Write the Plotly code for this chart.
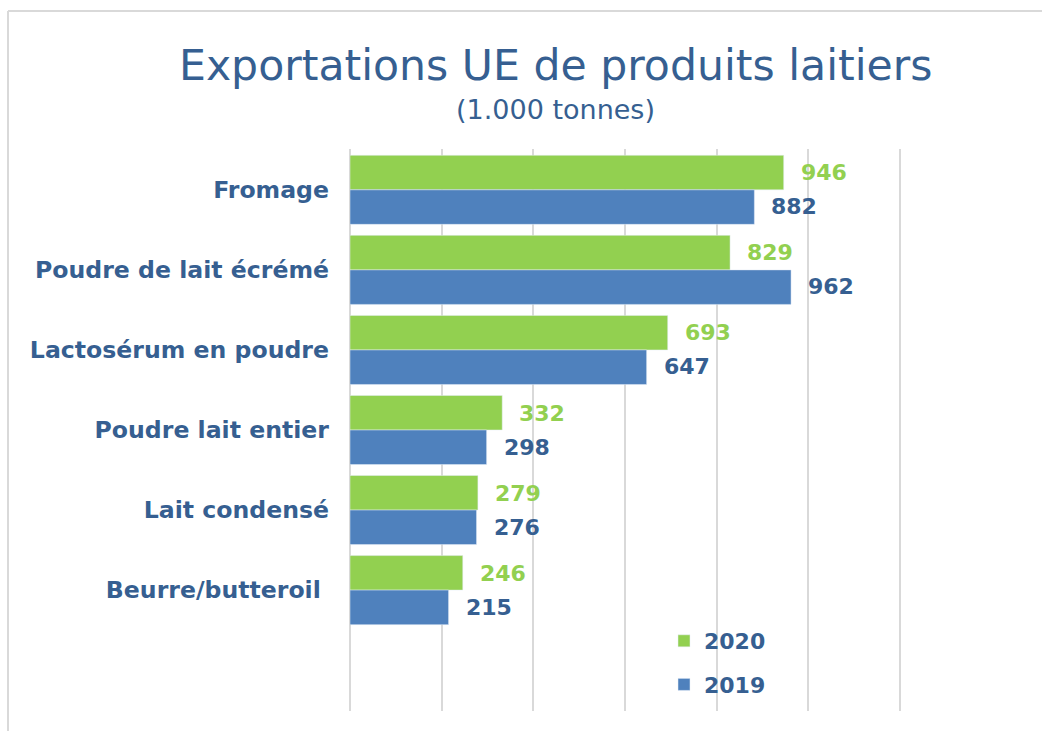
import plotly.graph_objects as go

categories = ["Fromage", "Poudre de lait écrémé", "Lactosérum en poudre",
              "Poudre lait entier", "Lait condensé", "Beurre/butteroil\u00a0"]
values_2020 = [946, 829, 693, 332, 279, 246]
values_2019 = [882, 962, 647, 298, 276, 215]
series_names = ["2020", "2019"]

GREEN = "#92D050"
BLUE = "#4F81BD"
DARK = "#365F91"
GRID = "#D9D9D9"
FONT = "DejaVu Sans"

W, H = 1042, 731
L, R, T, B = 350, 140, 149, 20
pw, ph = W - L - R, H - T - B


def px_x(x):
    return (x - L) / pw


def px_y(y):
    return (H - B - y) / ph


fig = go.Figure()
fig.add_trace(go.Bar(y=categories, x=values_2020, orientation="h", name=series_names[0],
                     marker=dict(color=GREEN), legendgroup="a"))
fig.add_trace(go.Bar(y=categories, x=values_2019, orientation="h", name=series_names[1],
                     marker=dict(color=BLUE), legendgroup="b"))

annotations = []
for cat, v in zip(categories, values_2020):
    annotations.append(dict(x=v, y=cat, xref="x", yref="y", text=str(v), showarrow=False,
                            xanchor="left", yanchor="middle", xshift=15, yshift=17,
                            font=dict(family=FONT, size=22, color=GREEN, weight="bold")))
for cat, v in zip(categories, values_2019):
    annotations.append(dict(x=v, y=cat, xref="x", yref="y", text=str(v), showarrow=False,
                            xanchor="left", yanchor="middle", xshift=15, yshift=-17,
                            font=dict(family=FONT, size=22, color=DARK, weight="bold")))

annotations.append(dict(x=px_x(555), y=px_y(82), xref="paper", yref="paper",
                        text="Exportations UE de produits laitiers", showarrow=False,
                        yanchor="bottom", yshift=-10,
                        font=dict(family=FONT, size=42.6, color=DARK)))
annotations.append(dict(x=px_x(555), y=px_y(117), xref="paper", yref="paper",
                        text="(1.000 tonnes)", showarrow=False,
                        yanchor="bottom", yshift=-10,
                        font=dict(family=FONT, size=27, color=DARK)))

fig.update_layout(
    width=W, height=H,
    margin=dict(l=L, r=R, t=T, b=B, autoexpand=False),
    paper_bgcolor="white", plot_bgcolor="white",
    barmode="group", bargap=0.1375, bargroupgap=0,
    font=dict(family=FONT, color=DARK),
    showlegend=True,
    legend=dict(x=px_x(664), y=px_y(620), xanchor="left", yanchor="top",
                traceorder="grouped", tracegroupgap=12,
                font=dict(family=FONT, size=22, color=DARK, weight="bold"),
                bgcolor="rgba(0,0,0,0)"),
    annotations=annotations,
    xaxis=dict(range=[0, 1204], tick0=0, dtick=200, showgrid=True, gridcolor=GRID, gridwidth=2,
               showticklabels=False, zeroline=True, zerolinecolor=GRID, zerolinewidth=2,
               showline=False, fixedrange=True),
    yaxis=dict(type="category", range=[6.51, -0.51], showgrid=False, zeroline=False,
               showline=False, ticks="", ticklabelstandoff=20, fixedrange=True,
               tickfont=dict(family=FONT, size=23.6, color=DARK, weight="bold")),
    shapes=[
        dict(type="line", xref="paper", yref="paper", x0=px_x(8), x1=px_x(1042),
             y0=px_y(11), y1=px_y(11), line=dict(color=GRID, width=2)),
        dict(type="line", xref="paper", yref="paper", x0=px_x(8), x1=px_x(8),
             y0=px_y(11), y1=px_y(731), line=dict(color=GRID, width=2)),
    ],
)

fig.write_html("out.html", config={"displayModeBar": False},
               post_script="document.body.style.margin='0';document.body.style.overflow='hidden';")
